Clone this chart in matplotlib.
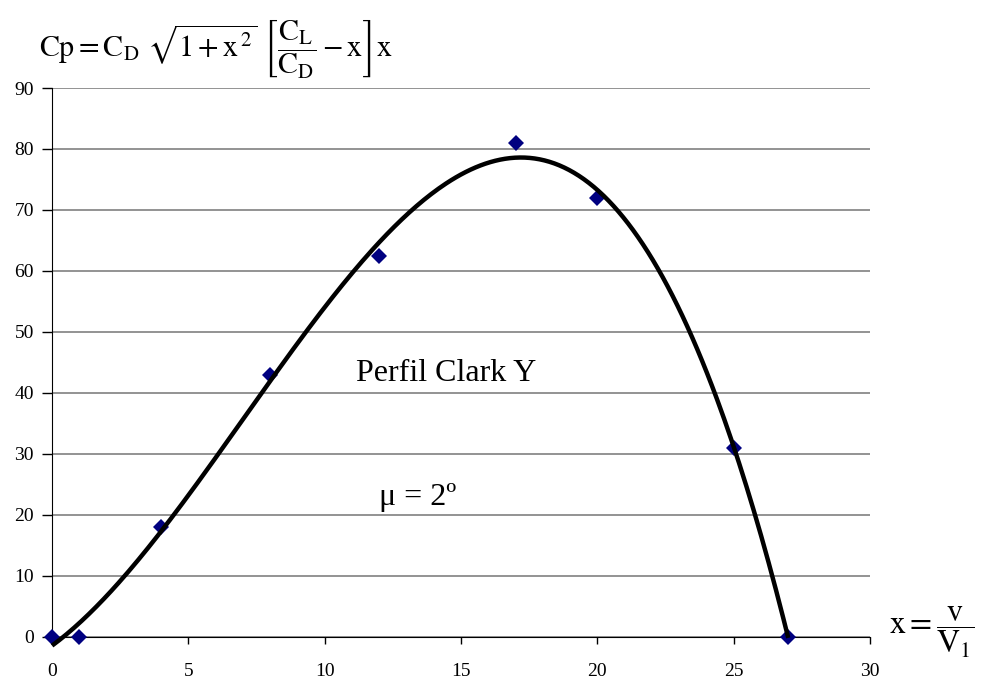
import numpy as np
import matplotlib.pyplot as plt

plt.rcParams['font.family'] = ['Liberation Serif', 'DejaVu Serif']
plt.rcParams['mathtext.fontset'] = 'stix'

# Measured points for the Clark Y profile
x_vals = [0, 1, 4, 8, 12, 17, 20, 25, 27]
cp_vals = [0, 0, 18, 43, 62.5, 81, 72, 31, 0]

x_ticks = [0, 5, 10, 15, 20, 25, 30]
y_ticks = [0, 10, 20, 30, 40, 50, 60, 70, 80, 90]

fig = plt.figure(figsize=(9.82, 6.77), dpi=100)
ax = fig.add_axes([0.053, 0.0595, 0.833, 0.8105])

# polynomial trend line through the points
coef = np.polyfit(x_vals, cp_vals, 3)
xs = np.linspace(min(x_vals), max(x_vals), 300)
ax.plot(xs, np.polyval(coef, xs), color='black', lw=3.2, zorder=4,
        solid_capstyle='butt', clip_on=False)
ax.plot(x_vals, cp_vals, 'D', color='#000080', ms=8.5, mew=0, zorder=3,
        clip_on=False)

ax.set_xlim(0, 30)
ax.set_ylim(0, 90)
ax.set_xticks(x_ticks)
ax.set_yticks(y_ticks)
ax.yaxis.grid(True, color='#808080', lw=1.2)
ax.set_axisbelow(True)
for s in ['top', 'right']:
    ax.spines[s].set_visible(False)
ax.tick_params(axis='x', direction='out', length=5, width=1, pad=14,
               labelsize=14)
ax.tick_params(axis='y', direction='out', length=7, width=1, pad=6,
               labelsize=14)

ax.text(14.45, 43.2, 'Perfil Clark Y', ha='center', va='center', fontsize=23)
# the label box blanks out part of the 20 grid line
ax.text(13.4, 22.9, '\u2002' * 4 + 'μ = 2º' + '\u2002' * 4, ha='center',
        va='center', fontsize=23, zorder=5,
        bbox=dict(facecolor='white', edgecolor='none', pad=2))

fig.text(0.04, 0.928,
         r'$\mathrm{Cp = C_D}\ \sqrt{1+\mathrm{x}^{\,2}}\ \left[\dfrac{\mathrm{C_L}}{\mathrm{C_D}} - \mathrm{x}\right]\mathrm{x}$',
         ha='left', va='center', fontsize=21.5)
fig.text(0.905, 0.066, r'$\mathrm{x} = \dfrac{\mathrm{v}}{\mathrm{V_1}}$',
         ha='left', va='center', fontsize=23)

fig.savefig('out.png', dpi=100)
